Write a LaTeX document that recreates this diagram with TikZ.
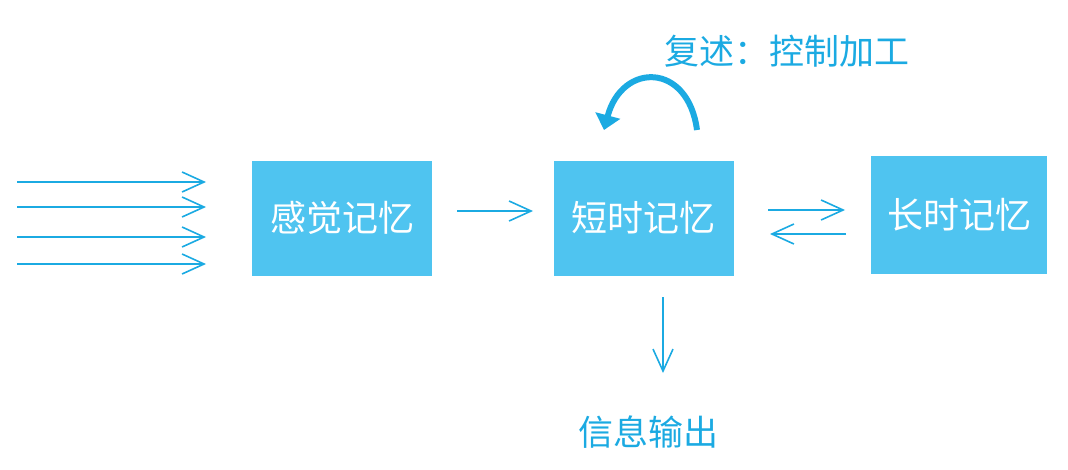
\documentclass[tikz,border=0pt]{standalone}
\usepackage{fontspec}
\newfontfamily\cjk{Noto Sans CJK SC}
\usetikzlibrary{arrows.meta}
\definecolor{boxblue}{RGB}{79,196,240}
\definecolor{lineblue}{RGB}{27,170,226}
\begin{document}
\begin{tikzpicture}[x=1pt,y=-1pt,
  memory/.style={fill=boxblue,draw=none,minimum width=180pt,minimum height=115pt,inner sep=0pt,text=white,font=\cjk\fontsize{36}{40}\selectfont},
  label/.style={text=lineblue,font=\cjk\fontsize{35}{40}\selectfont,inner sep=0pt},
  thinarrow/.style={draw=lineblue,line width=1.6pt,-{Straight Barb[length=22pt,width=20pt,line width=1.6pt]}}]
\useasboundingbox (0,0) rectangle (1068,469);
\node[memory] (sm) at (342,218) {感觉记忆};
\node[memory] (stm) at (643.5,218) {短时记忆};
\node[memory,minimum width=176pt,minimum height=118pt] (ltm) at (959,215) {长时记忆};
\node[label] (rehearse) at (787,51) {复述：控制加工};
\node[label] (out) at (648,432) {信息输出};
% input arrows
\foreach \i/\y in {1/182,2/207,3/237,4/264}{
  \coordinate (in\i) at (17,\y);
  \coordinate (ie\i) at (206,\y);
  \draw[thinarrow] (in\i) -- (ie\i);
}
\coordinate (a1) at (457,211);
\coordinate (a2) at (533,211);
\draw[thinarrow] (a1) -- (a2);
\coordinate (b1) at (768,210);
\coordinate (b2) at (845,210);
\draw[thinarrow] (b1) -- (b2);
\coordinate (c1) at (846,234);
\coordinate (c2) at (770,234);
\draw[thinarrow] (c1) -- (c2);
\coordinate (d1) at (663,297);
\coordinate (d2) at (663,373);
\draw[thinarrow] (d1) -- (d2);
% curved rehearsal arrow
\coordinate (r1) at (697,130);
\coordinate (r2) at (604,130);
\draw[draw=lineblue,line width=6pt,-{Triangle[length=15pt,width=25pt]}] (r1) .. controls (688,62) and (622,62) .. (r2);
\end{tikzpicture}
\end{document}
